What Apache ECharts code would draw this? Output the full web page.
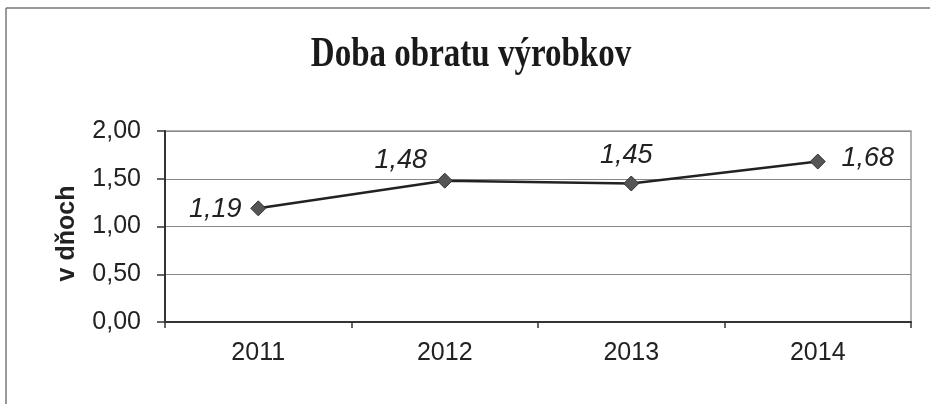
<!DOCTYPE html>
<html>
<head>
<meta charset="utf-8">
<script src="https://cdn.jsdelivr.net/npm/echarts@6/dist/echarts.min.js"></script>
<style>
  html, body { margin: 0; padding: 0; background: #fff; }
  #chart { width: 930px; height: 404px; }
</style>
</head>
<body>
<div id="chart"></div>
<script>
const years = ["2011", "2012", "2013", "2014"];
const turnoverDays = [1.19, 1.48, 1.45, 1.68];
// label offsets from each point, in px
const labelOffsets = [[-43, 1], [-44, -20], [-5, -28], [50, -3]];

const formatComma = (v) => v.toFixed(2).replace(".", ",");
const sans = '"Liberation Sans", Arial, sans-serif';

const chart = echarts.init(document.getElementById("chart"), null, { renderer: "canvas" });

chart.setOption({
  animation: false,
  backgroundColor: "#ffffff",
  graphic: [
    {
      type: "line",
      shape: { x1: 6, y1: 8, x2: 930, y2: 8 },
      style: { stroke: "#777", lineWidth: 1.5 },
      silent: true,
    },
    {
      type: "line",
      shape: { x1: 6, y1: 8, x2: 6, y2: 404 },
      style: { stroke: "#777", lineWidth: 1.5 },
      silent: true,
    },
    {
      type: "rect",
      shape: { x: 165, y: 131, width: 746, height: 191 },
      style: { fill: "none", stroke: "#999", lineWidth: 1.5 },
      silent: true,
      z: 0,
    },
    {
      // title, stretched vertically like the scanned original
      type: "text",
      x: 471,
      y: 55,
      scaleY: 1.3,
      style: {
        text: "Doba obratu výrobkov",
        x: 0,
        y: 0,
        align: "center",
        verticalAlign: "middle",
        font: 'bold 33px "Liberation Serif", "Times New Roman", serif',
        fill: "#1a1a1a",
      },
      silent: true,
    },
  ],
  grid: {
    left: 165,
    right: 19,
    top: 131,
    bottom: 82,
  },
  xAxis: {
    type: "category",
    data: years,
    boundaryGap: true,
    axisLine: { lineStyle: { color: "#333", width: 2 } },
    axisTick: { show: true, length: 6, lineStyle: { color: "#333", width: 1.5 } },
    axisLabel: {
      margin: 19,
      fontFamily: sans,
      fontSize: 25,
      color: "#222",
    },
  },
  yAxis: {
    type: "value",
    min: 0,
    max: 2,
    interval: 0.5,
    name: "v dňoch",
    nameLocation: "middle",
    nameGap: 85,
    nameRotate: 90,
    nameTextStyle: {
      fontFamily: sans,
      fontWeight: "bold",
      fontSize: 25,
      color: "#222",
      padding: [0, 0, 0, -14],
    },
    axisLine: { show: true, lineStyle: { color: "#333", width: 2 } },
    axisTick: { show: true, length: 8, lineStyle: { color: "#333", width: 1.5 } },
    axisLabel: {
      margin: 24,
      formatter: formatComma,
      fontFamily: sans,
      fontSize: 25,
      color: "#222",
    },
    splitLine: { show: true, lineStyle: { color: "#888", width: 1.2 } },
  },
  series: [
    {
      type: "line",
      data: turnoverDays.map((v, i) => ({
        value: v,
        label: { offset: labelOffsets[i] },
      })),
      symbol: "diamond",
      symbolSize: 15,
      itemStyle: { color: "#555", borderColor: "#333", borderWidth: 1 },
      lineStyle: { color: "#222", width: 2.5 },
      label: {
        show: true,
        position: "inside",
        align: "center",
        verticalAlign: "middle",
        formatter: (p) => formatComma(p.value),
        fontFamily: sans,
        fontStyle: "italic",
        fontSize: 27,
        color: "#222",
      },
      z: 3,
    },
  ],
});
</script>
</body>
</html>
